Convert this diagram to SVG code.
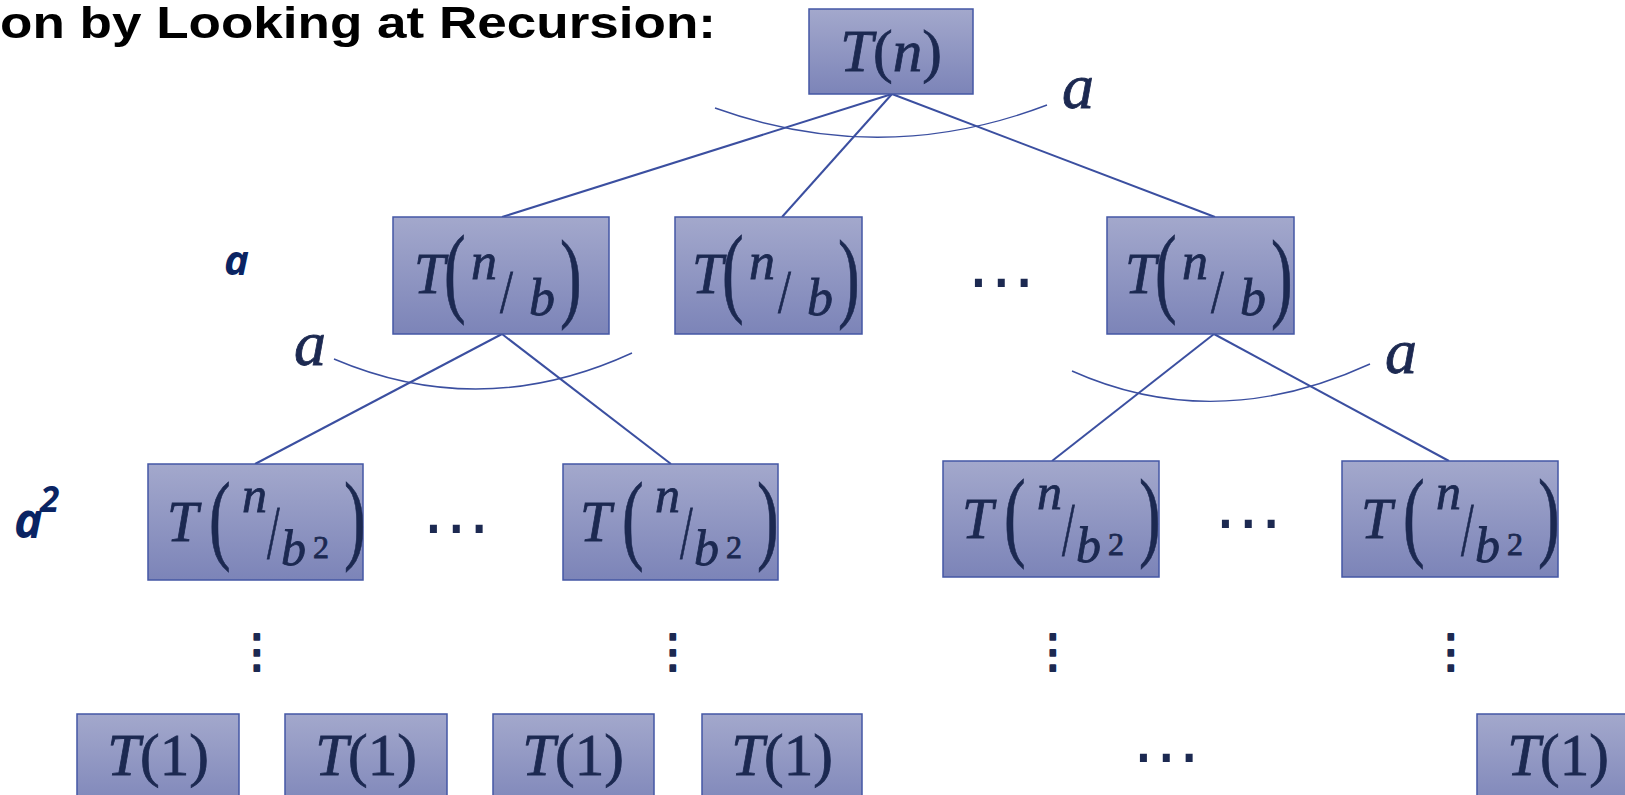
<svg xmlns="http://www.w3.org/2000/svg" width="1625" height="795" viewBox="0 0 1625 795">
<defs>
<linearGradient id="boxfill" x1="0" y1="0" x2="0" y2="1">
<stop offset="0" stop-color="#A3A8CC"/>
<stop offset="1" stop-color="#7C84B8"/>
</linearGradient>
<style>
.box{fill:url(#boxfill);stroke:#4457A5;stroke-width:1.5}
.m{font-family:"Liberation Serif","DejaVu Serif",serif;fill:#1C2951;stroke:#1C2951;stroke-width:0.8}
.i{font-style:italic}
.big{font-size:100px}
.edge{stroke:#3B4FA0;stroke-width:2;fill:none}
.arc{stroke:#3B4FA0;stroke-width:1.4;fill:none}
.dots{font-family:"DejaVu Sans",sans-serif;fill:#1C2951;text-anchor:middle}
.vd{font-family:"DejaVu Sans",sans-serif;fill:#1C2951;text-anchor:middle;font-size:46px;stroke:#1C2951;stroke-width:2;stroke-linejoin:round}
.hand{font-family:"Open Sans",sans-serif;font-style:italic;font-weight:bold;fill:#0A2463}
.title{font-family:"Liberation Sans",Arial,sans-serif;font-weight:bold;fill:#000}
</style>
</defs>
<rect width="1625" height="795" fill="#fff"/>
<text class="title" x="0" y="38" font-size="44" textLength="716" lengthAdjust="spacingAndGlyphs">on by Looking at Recursion:</text>

<g id="connectors">
<line class="edge" x1="892" y1="94" x2="502" y2="217"/>
<line class="edge" x1="892" y1="94" x2="782" y2="217"/>
<line class="edge" x1="892" y1="94" x2="1215" y2="217"/>
<line class="edge" x1="502" y1="334" x2="255" y2="464"/>
<line class="edge" x1="502" y1="334" x2="671" y2="464"/>
<line class="edge" x1="1214" y1="334" x2="1052" y2="461"/>
<line class="edge" x1="1214" y1="334" x2="1449" y2="461"/>
<path class="arc" d="M715,108 Q882,168 1047,105"/>
<path class="arc" d="M334,359 Q482,422 632,353"/>
<path class="arc" d="M1072,371 Q1215,435 1370,364"/>
</g>

<g id="root">
<rect class="box" x="809" y="9" width="164" height="85"/>
<text class="m" x="891" y="71" font-size="59" text-anchor="middle"><tspan class="i">T</tspan>(<tspan class="i">n</tspan>)</text>
</g>

<text class="m i" x="1062" y="108" font-size="64">a</text>
<text class="m i" x="294" y="365" font-size="64">a</text>
<text class="m i" x="1385" y="373" font-size="64">a</text>

<text class="hand" x="224" y="275" font-size="42">a</text>
<text class="hand" x="14" y="538" font-size="48">a<tspan x="40" y="512" font-size="35">2</tspan></text>

<g id="l1a" transform="translate(393,217)">
<rect class="box" x="0" y="0" width="216" height="117"/>
<text class="m i" x="21" y="76" font-size="56">T</text>
<text class="m big" transform="translate(51,87) scale(0.65,1)">(</text>
<text class="m i" x="78" y="62" font-size="52">n</text>
<text class="m" transform="translate(107,95) scale(0.75,1)" font-size="62">/</text>
<text class="m i" x="136" y="98" font-size="52">b</text>
<text class="m big" transform="translate(167,92) scale(0.65,1)">)</text>
</g>

<g id="l1b" transform="translate(675,217)">
<rect class="box" x="0" y="0" width="187" height="117"/>
<g transform="translate(-4,0)">
<text class="m i" x="21" y="76" font-size="56">T</text>
<text class="m big" transform="translate(51,87) scale(0.65,1)">(</text>
<text class="m i" x="78" y="62" font-size="52">n</text>
<text class="m" transform="translate(107,95) scale(0.75,1)" font-size="62">/</text>
<text class="m i" x="136" y="98" font-size="52">b</text>
<text class="m big" transform="translate(167,92) scale(0.65,1)">)</text>
</g>
</g>

<text class="dots" x="1001" y="304" font-size="68">⋯</text>

<g id="l1c" transform="translate(1107,217)">
<rect class="box" x="0" y="0" width="187" height="117"/>
<g transform="translate(-3,0)">
<text class="m i" x="21" y="76" font-size="56">T</text>
<text class="m big" transform="translate(51,87) scale(0.65,1)">(</text>
<text class="m i" x="78" y="62" font-size="52">n</text>
<text class="m" transform="translate(107,95) scale(0.75,1)" font-size="62">/</text>
<text class="m i" x="136" y="98" font-size="52">b</text>
<text class="m big" transform="translate(167,92) scale(0.65,1)">)</text>
</g>
</g>

<g id="l2a" transform="translate(148,464)">
<rect class="box" x="0" y="0" width="215" height="116"/>
<text class="m i" x="19" y="77" font-size="56">T</text>
<text class="m big" transform="translate(61,87) scale(0.65,1)">(</text>
<text class="m i" x="94" y="48" font-size="50">n</text>
<text class="m" transform="translate(119,94) scale(0.6,1)" font-size="76">/</text>
<text class="m i" x="133" y="101" font-size="50">b</text>
<text class="m" x="165" y="94" font-size="32">2</text>
<text class="m big" transform="translate(196,87) scale(0.65,1)">)</text>
</g>

<text class="dots" x="456" y="550" font-size="68">⋯</text>

<g id="l2b" transform="translate(563,464)">
<rect class="box" x="0" y="0" width="215" height="116"/>
<g transform="translate(-2,0)">
<text class="m i" x="19" y="77" font-size="56">T</text>
<text class="m big" transform="translate(61,87) scale(0.65,1)">(</text>
<text class="m i" x="94" y="48" font-size="50">n</text>
<text class="m" transform="translate(119,94) scale(0.6,1)" font-size="76">/</text>
<text class="m i" x="133" y="101" font-size="50">b</text>
<text class="m" x="165" y="94" font-size="32">2</text>
<text class="m big" transform="translate(196,87) scale(0.65,1)">)</text>
</g>
</g>

<g id="l2c" transform="translate(943,461)">
<rect class="box" x="0" y="0" width="216" height="116"/>
<text class="m i" x="19" y="77" font-size="56">T</text>
<text class="m big" transform="translate(61,87) scale(0.65,1)">(</text>
<text class="m i" x="94" y="48" font-size="50">n</text>
<text class="m" transform="translate(119,94) scale(0.6,1)" font-size="76">/</text>
<text class="m i" x="133" y="101" font-size="50">b</text>
<text class="m" x="165" y="94" font-size="32">2</text>
<text class="m big" transform="translate(196,87) scale(0.65,1)">)</text>
</g>

<text class="dots" x="1248" y="545" font-size="68">⋯</text>

<g id="l2d" transform="translate(1342,461)">
<rect class="box" x="0" y="0" width="216" height="116"/>
<text class="m i" x="19" y="77" font-size="56">T</text>
<text class="m big" transform="translate(61,87) scale(0.65,1)">(</text>
<text class="m i" x="94" y="48" font-size="50">n</text>
<text class="m" transform="translate(119,94) scale(0.6,1)" font-size="76">/</text>
<text class="m i" x="133" y="101" font-size="50">b</text>
<text class="m" x="165" y="94" font-size="32">2</text>
<text class="m big" transform="translate(196,87) scale(0.65,1)">)</text>
</g>

<text class="vd" x="257" y="667">⋮</text>
<text class="vd" x="673" y="667">⋮</text>
<text class="vd" x="1053" y="667">⋮</text>
<text class="vd" x="1451" y="667">⋮</text>

<g id="leaf1"><rect class="box" x="77" y="714" width="162" height="100"/>
<text class="m" x="158" y="775" font-size="59" text-anchor="middle"><tspan class="i">T</tspan>(1)</text></g>
<g id="leaf2"><rect class="box" x="285" y="714" width="162" height="100"/>
<text class="m" x="366" y="775" font-size="59" text-anchor="middle"><tspan class="i">T</tspan>(1)</text></g>
<g id="leaf3"><rect class="box" x="493" y="714" width="161" height="100"/>
<text class="m" x="573" y="775" font-size="59" text-anchor="middle"><tspan class="i">T</tspan>(1)</text></g>
<g id="leaf4"><rect class="box" x="702" y="714" width="160" height="100"/>
<text class="m" x="782" y="775" font-size="59" text-anchor="middle"><tspan class="i">T</tspan>(1)</text></g>
<text class="dots" x="1166" y="779" font-size="68">⋯</text>
<g id="leaf5"><rect class="box" x="1477" y="714" width="162" height="100"/>
<text class="m" x="1558" y="775" font-size="59" text-anchor="middle"><tspan class="i">T</tspan>(1)</text></g>
</svg>
